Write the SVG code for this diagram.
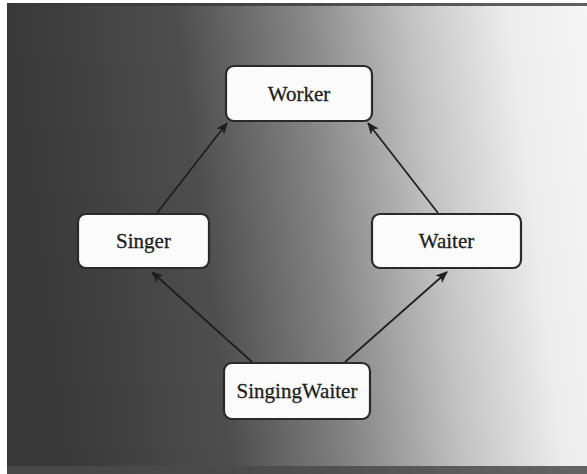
<svg xmlns="http://www.w3.org/2000/svg" width="587" height="474" viewBox="0 0 587 474">
<defs>
<linearGradient id="bg" x1="0" y1="0.1" x2="1" y2="0">
<stop offset="0" stop-color="#383838"/>
<stop offset="0.3" stop-color="#4e4e4e"/>
<stop offset="0.5" stop-color="#838383"/>
<stop offset="0.7" stop-color="#c4c4c4"/>
<stop offset="0.86" stop-color="#ececec"/>
<stop offset="1" stop-color="#f6f6f6"/>
</linearGradient>
<marker id="ah" viewBox="0 0 12 10" refX="11" refY="5" markerWidth="12" markerHeight="10" markerUnits="userSpaceOnUse" orient="auto">
<path d="M0,0 L12,5 L0,10 L3,5 Z" fill="#1e1e1e"/>
</marker>
<style>
.node rect{fill:#fbfbfb;stroke:#2a2a2a;stroke-width:2.2}
.node text{font-family:"Liberation Serif",serif;font-size:21px;fill:#1e1e1e;stroke:#1e1e1e;stroke-width:0.3;text-anchor:middle;dominant-baseline:central}
.edge{stroke:#1e1e1e;stroke-width:1.7;fill:none;marker-end:url(#ah)}
</style>
</defs>
<rect x="0" y="0" width="587" height="474" fill="#ffffff"/>
<rect x="7" y="3" width="580" height="471" fill="url(#bg)"/>
<rect x="7" y="3" width="580" height="3" fill="#3a3a3a" opacity="0.8"/>
<rect x="7" y="466" width="580" height="8" fill="#4a4a4a" opacity="0.85"/>
<g id="connectors">
<line class="edge" x1="157" y1="213" x2="227" y2="123"/>
<line class="edge" x1="438" y1="213" x2="368" y2="123"/>
<line class="edge" x1="252" y1="362" x2="152" y2="272"/>
<line class="edge" x1="345" y1="362" x2="447" y2="272"/>
</g>
<g id="worker" class="node">
<rect x="226" y="66" width="146" height="55" rx="8"/>
<text x="299" y="94">Worker</text>
</g>
<g id="singer" class="node">
<rect x="78" y="214" width="131" height="54" rx="8"/>
<text x="143.5" y="241">Singer</text>
</g>
<g id="waiter" class="node">
<rect x="372" y="214" width="149" height="54" rx="8"/>
<text x="446.5" y="241">Waiter</text>
</g>
<g id="singingwaiter" class="node">
<rect x="224" y="363" width="146" height="56" rx="8"/>
<text x="297" y="391">SingingWaiter</text>
</g>
</svg>
